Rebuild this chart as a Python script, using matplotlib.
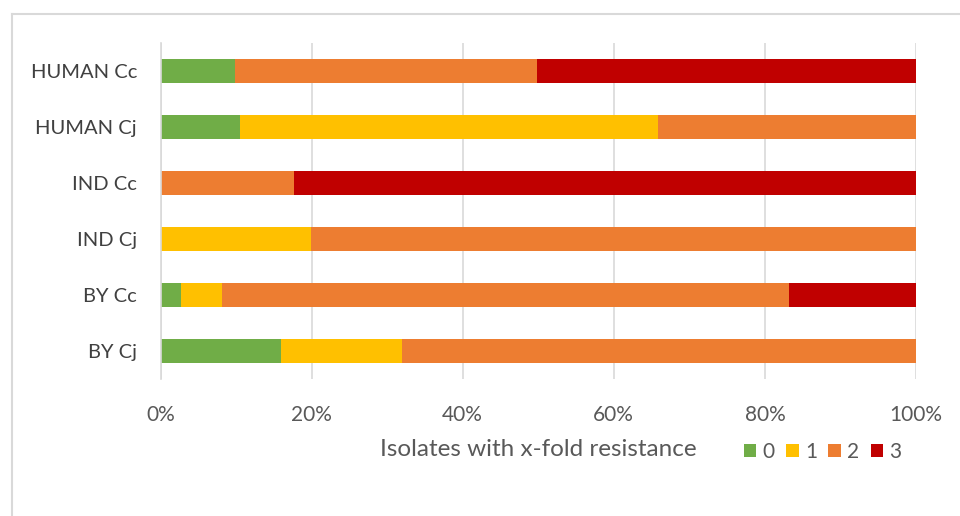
import matplotlib
matplotlib.use("Agg")
import matplotlib.pyplot as plt
from matplotlib.lines import Line2D
from matplotlib.patches import Patch
import numpy as np

plt.rcParams['font.family'] = ['Lato', 'DejaVu Sans']

categories = ["HUMAN Cc", "HUMAN Cj", "IND Cc", "IND Cj", "BY Cc", "BY Cj"]
series_names = ["0", "1", "2", "3"]
fold0 = [9.9, 10.5, 0.0, 0.0, 2.7, 15.9]
fold1 = [0.0, 55.4, 0.0, 19.9, 5.5, 16.0]
fold2 = [39.9, 34.1, 17.7, 80.1, 75.0, 68.1]
fold3 = [50.2, 0.0, 82.3, 0.0, 16.8, 0.0]
colors = ["#70AD47", "#FFC000", "#ED7D31", "#C00000"]
xticks = [0, 20, 40, 60, 80, 100]
xticklabels = ["0%", "20%", "40%", "60%", "80%", "100%"]

W, H = 960, 516
fig = plt.figure(figsize=(W / 100, H / 100), dpi=100)
ax = fig.add_axes([160.5 / W, 1 - 379 / H, (916 - 160.5) / W, (379 - 43) / H])

y = np.arange(len(categories))
left = np.zeros(len(categories))
for vals, c, name in zip([fold0, fold1, fold2, fold3], colors, series_names):
    vals = np.array(vals)
    ax.barh(y, vals, left=left, height=0.43, color=c, label=name, zorder=3)
    left += vals

ax.set_ylim(len(categories) - 0.5, -0.5)
ax.set_yticks(y)
ax.set_yticklabels(categories, fontsize=14.5, color="#404040")
ax.set_xlim(0, 100)
ax.set_xticks(xticks)
ax.set_xticklabels(xticklabels, fontsize=15, color="#595959")
ax.tick_params(axis='both', length=0)
ax.tick_params(axis='x', pad=19)
ax.tick_params(axis='y', pad=17)
ax.grid(axis='x', color="#d9d9d9", linewidth=1.2, zorder=0)
for s in ["top", "right", "bottom"]:
    ax.spines[s].set_visible(False)
ax.spines["left"].set_color("#d9d9d9")
ax.spines["left"].set_linewidth(1.2)
ax.spines["left"].set_zorder(4)

fig.text(538 / W, 1 - 450 / H, "Isolates with x-fold resistance", fontsize=17.5,
         color="#595959", ha="center", va="center")

handles = [Patch(facecolor=c, edgecolor='none') for c in colors]
fig.legend(handles, series_names, loc="center left", bbox_to_anchor=(725 / W, 1 - 452 / H),
           ncol=4, frameon=False, fontsize=15, handlelength=0.6, handleheight=0.6,
           handletextpad=0.3, columnspacing=0.55, labelcolor="#595959")

# chart area frame
fig.add_artist(Line2D([12 / W, 1], [1 - 14 / H, 1 - 14 / H], color="#d9d9d9", linewidth=1.5))
fig.add_artist(Line2D([12 / W, 12 / W], [0, 1 - 14 / H], color="#d9d9d9", linewidth=1.5))

fig.savefig("out.png", dpi=100)
